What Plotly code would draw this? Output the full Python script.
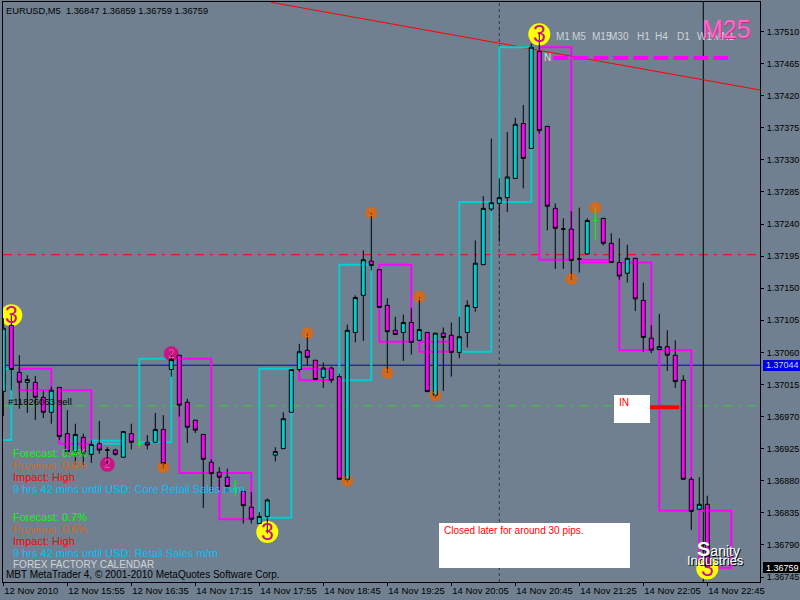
import plotly.graph_objects as go

BG = "#708090"
CYAN = "#00CED1"
MAG = "#FF00FF"

opens = [1.37005,1.37098,1.37032,1.37018,1.37018,1.36997,1.36976,1.37011,1.36946,1.36921,1.36941,1.36917,1.36932,1.36923,1.36923,1.36913,1.36946,1.36931,1.36934,1.36934,1.36952,1.37036,1.37056,1.36990,1.36965,1.36945,1.36906,1.36892,1.36885,1.36869,
1.36865,1.36843,1.36820,1.36830,1.36916,1.36925,1.36976,1.37036,1.37063,1.37049,1.37025,1.37038,1.37026,1.36882,1.37088,1.37140,1.37188,1.37176,1.37126,1.37091,1.37088,1.37102,1.37077,1.37088,1.37000,1.37087,1.37084,1.37060,1.37088,1.37123,
1.37183,1.37261,1.37269,1.37277,1.37304,1.37381,1.37346,1.37482,1.37377,1.37262,1.37233,1.37233,1.37191,1.37198,1.37245,1.37248,1.37213,1.37186,1.37171,1.37192,1.37133,1.37080,1.37064,1.37068,1.37056,1.37021,1.36882,1.36840,1.36847]
highs = [1.37108,1.37112,1.37056,1.37028,1.37027,1.37007,1.37012,1.37011,1.36979,1.36960,1.36946,1.36937,1.36964,1.36927,1.36925,1.36949,1.36960,1.36939,1.36944,1.36975,1.36972,1.37058,1.37056,1.36995,1.36965,1.36945,1.36910,1.36899,1.36897,1.36881,
1.36865,1.36864,1.36836,1.36855,1.36927,1.36976,1.37036,1.37072,1.37087,1.37049,1.37046,1.37040,1.37030,1.37099,1.37140,1.37203,1.37256,1.37176,1.37136,1.37110,1.37113,1.37122,1.37138,1.37088,1.37087,1.37095,1.37102,1.37110,1.37133,1.37217,
1.37279,1.37360,1.37304,1.37369,1.37389,1.37407,1.37493,1.37507,1.37377,1.37269,1.37248,1.37258,1.37263,1.37248,1.37263,1.37248,1.37227,1.37220,1.37211,1.37192,1.37158,1.37098,1.37114,1.37091,1.37077,1.37028,1.36885,1.36885,1.36859]
lows = [1.36971,1.37007,1.36981,1.36975,1.36965,1.36968,1.36960,1.36937,1.36916,1.36902,1.36902,1.36905,1.36918,1.36902,1.36915,1.36913,1.36924,1.36925,1.36924,1.36934,1.36897,1.37026,1.36970,1.36933,1.36947,1.36842,1.36865,1.36867,1.36864,1.36859,
1.36820,1.36820,1.36820,1.36806,1.36907,1.36925,1.36976,1.37033,1.37042,1.37022,1.37010,1.37017,1.36882,1.36878,1.37074,1.37076,1.37175,1.37123,1.37031,1.37085,1.37048,1.37057,1.37077,1.37005,1.36995,1.37006,1.37026,1.37052,1.37067,1.37117,
1.37183,1.37258,1.37215,1.37257,1.37304,1.37290,1.37346,1.37367,1.37231,1.37177,1.37177,1.37161,1.37172,1.37198,1.37217,1.37210,1.37186,1.37162,1.37158,1.37118,1.37061,1.37059,1.37064,1.37034,1.37010,1.36882,1.36811,1.36840,1.36759]
closes = [1.37094,1.37036,1.37018,1.37022,1.36997,1.36976,1.37007,1.36942,1.36921,1.36945,1.36918,1.36931,1.36923,1.36923,1.36917,1.36949,1.36934,1.36931,1.36930,1.36952,1.36904,1.37050,1.36986,1.36955,1.36951,1.36910,1.36890,1.36885,1.36872,1.36869,
1.36845,1.36826,1.36830,1.36853,1.36921,1.36967,1.37036,1.37061,1.37053,1.37022,1.37038,1.37021,1.36882,1.37091,1.37137,1.37190,1.37182,1.37123,1.37089,1.37085,1.37102,1.37074,1.37092,1.37005,1.37087,1.37081,1.37060,1.37082,1.37126,1.37185,
1.37262,1.37270,1.37277,1.37306,1.37380,1.37332,1.37488,1.37371,1.37265,1.37234,1.37233,1.37189,1.37191,1.37245,1.37245,1.37213,1.37186,1.37167,1.37192,1.37135,1.37081,1.37063,1.37068,1.37056,1.37019,1.36882,1.36837,1.36847,1.36759]
green_dojis = [17, 29, 74]

tick_bars = [0, 8, 16, 24, 32, 40, 48, 56, 64, 72, 80, 88]
tick_labels = ["12 Nov 2010","12 Nov 15:55","12 Nov 16:35","14 Nov 17:15","14 Nov 17:55","14 Nov 18:45",
               "14 Nov 19:25","14 Nov 20:05","14 Nov 20:45","14 Nov 21:25","14 Nov 22:05","14 Nov 22:45"]
price_ticks = [1.37510,1.37465,1.37420,1.37375,1.37330,1.37285,1.37240,1.37195,1.37150,1.37105,1.37060,1.37015,
               1.36970,1.36925,1.36880,1.36835,1.36790,1.36745]

# box overlays: start bar, end bar, top price, bottom price, kind
box_start = [-3, 2, 7, 11, 17, 22, 27, 32, 37, 42, 47, 52, 57, 62, 67, 72, 77, 82, 87]
box_end   = [1, 6, 11, 15, 21, 26, 31, 36, 41, 46, 51, 56, 61, 66, 71, 76, 81, 86, 91]
box_top   = [1.37037,1.37037,1.37007,1.36936,1.37051,1.37051,1.36891,1.37037,1.37037,1.37183,1.37183,1.37075,1.37271,1.37488,1.37488,1.37190,1.37186,1.37063,1.36838]
box_bot   = [1.36937,1.37007,1.36932,1.36932,1.36934,1.36891,1.36826,1.36828,1.37021,1.37021,1.37075,1.37061,1.37061,1.37271,1.37190,1.37186,1.37063,1.36838,1.36758]
box_up    = [1,0,0,1,1,0,0,1,0,1,0,0,1,1,0,0,0,0,0]

yellow_bar = [1, 33, 67, 88]
yellow_price = [1.37112, 1.36808, 1.37506, 1.36757]
orange_bar = [20, 43, 38, 46, 48, 52, 54, 74, 71]
orange_price = [1.36899, 1.36880, 1.37087, 1.37256, 1.37031, 1.37138, 1.37000, 1.37263, 1.37163]
pink_bar = [13, 21]
pink_price = [1.36903, 1.37058]

blue_level = 1.37042
green_level = 1.36985
red_level = 1.37197
trend_bar = [33.46, 94.59]
trend_price = [1.37551, 1.37428]
dash_price = 1.37473
dash_bars = [68.75, 90.6]
in_price = 1.36983
in_bars = [80.5, 84.5]
cross_bar = 87.5
dotted_bar = 62

W, H = 800, 600
ML, MR, MT, MB = 3, 40, 2, 18
def px(x): return (x - ML) / (W - ML - MR)
def py(y): return 1 - (y - MT) / (H - MT - MB)

main = [i for i in range(len(opens)) if i not in green_dojis]
fig = go.Figure()
fig.add_trace(go.Candlestick(
    x=main, open=[opens[i] for i in main], high=[highs[i] for i in main],
    low=[lows[i] for i in main], close=[closes[i] for i in main],
    increasing=dict(line=dict(color="black", width=1), fillcolor=CYAN),
    decreasing=dict(line=dict(color="black", width=1), fillcolor=MAG),
    whiskerwidth=0, hoverinfo="skip", showlegend=False))
fig.add_trace(go.Candlestick(
    x=green_dojis, open=[opens[i] for i in green_dojis], high=[highs[i] for i in green_dojis],
    low=[lows[i] for i in green_dojis], close=[closes[i] for i in green_dojis],
    increasing=dict(line=dict(color="#00FF00", width=1), fillcolor="#00FF00"),
    decreasing=dict(line=dict(color="#00FF00", width=1), fillcolor="#00FF00"),
    whiskerwidth=0, hoverinfo="skip", showlegend=False))

shapes = []
def hline(y, color, dash="solid", width=1):
    shapes.append(dict(type="line", xref="paper", yref="y", x0=0, x1=1, y0=y, y1=y, layer="below",
                       line=dict(color=color, width=width, dash=dash)))
hline(blue_level, "#0000CD")
hline(green_level, "#32CD32", "9px,6px,3px,6px")
hline(red_level, "#FF0000", "9px,6px,3px,6px")
shapes.append(dict(type="line", xref="x", yref="paper", x0=dotted_bar, x1=dotted_bar, y0=0, y1=1, layer="below",
                   line=dict(color="#33383d", width=1, dash="3px,3px")))
shapes.append(dict(type="line", xref="x", yref="paper", x0=cross_bar, x1=cross_bar, y0=0, y1=1, layer="below",
                   line=dict(color="black", width=1)))
shapes.append(dict(type="line", xref="x", yref="y", x0=trend_bar[0], x1=trend_bar[1], y0=trend_price[0], y1=trend_price[1],
                   layer="below", line=dict(color="#FF0000", width=1)))
for s, e, t, b, u in zip(box_start, box_end, box_top, box_bot, box_up):
    shapes.append(dict(type="rect", xref="x", yref="y", x0=s, x1=e, y0=b, y1=t, layer="below",
                       line=dict(color=CYAN if u else MAG, width=2)))
shapes.append(dict(type="line", xref="x", yref="y", x0=dash_bars[0], x1=dash_bars[1], y0=dash_price, y1=dash_price,
                   layer="below", line=dict(color=MAG, width=4, dash="15px,5px")))
def circle(b, p, d, color):
    shapes.append(dict(type="circle", xref="x", yref="y", xsizemode="pixel", ysizemode="pixel",
                       xanchor=b, yanchor=p, x0=-d/2, x1=d/2, y0=-d/2, y1=d/2, layer="below",
                       fillcolor=color, line=dict(width=0)))
for b, p in zip(yellow_bar, yellow_price): circle(b, p, 22, "#FFFF00")
for b, p in zip(orange_bar, orange_price): circle(b, p, 12, "#D2691E")
for b, p in zip(pink_bar, pink_price): circle(b, p, 15, "#C71585")
shapes.append(dict(type="line", xref="x", yref="y", x0=in_bars[0], x1=in_bars[1], y0=in_price, y1=in_price,
                   layer="above", line=dict(color="#FF0000", width=4)))
def pxrect(x0, y0, x1, y1, color):
    shapes.append(dict(type="rect", xref="paper", yref="paper", x0=px(x0), x1=px(x1), y0=py(y1), y1=py(y0),
                       layer="above", fillcolor=color, line=dict(width=0)))
pxrect(614, 395, 650, 423, "white")
pxrect(439, 523, 630, 568, "white")
pxrect(763, 360, 800, 371, "#0000E6")
pxrect(763, 562, 800, 573, "black")

ann = []
SANS = "Liberation Sans"
def label(text, x, y, color="black", size=10, anchor="left", **font):
    ann.append(dict(xref="paper", yref="paper", x=px(x), y=py(y), text=text, showarrow=False,
                    xanchor=anchor, yanchor="middle", borderpad=0, borderwidth=0,
                    font=dict(family=SANS, size=size, color=color, **font)))
def digit(b, p, text, color, size):
    ann.append(dict(xref="x", yref="y", x=b, y=p, text=text, showarrow=False, xanchor="center", yanchor="middle",
                    font=dict(family=SANS, size=size, color=color)))
for b, p in zip(yellow_bar, yellow_price): digit(b, p, "3", "#C8108C", 23)
for b, p in zip(orange_bar, orange_price): digit(b, p, "1", "#C07838", 10)
for b, p in zip(pink_bar, pink_price): digit(b, p, "2", "#D8589C", 12)

label("EURUSD,M5  1.36847 1.36859 1.36759 1.36759", 6, 10.5, size=9.3)
for t, x in zip(["M1","M5","M15","M30","H1","H4","D1","W1","MN1"], [556,572,592,609,637,655,677,697,713]):
    label(t, x, 36.5, "#CFD3D8", 10)
label("M25", 702, 29, "#FF69C8", 25, shadow="1px 1px 0 #C03090")
label("N", 544, 58, "#D8DCE0", 10)
label("#11826063 sell", 8, 401, size=9.5)
for y0, fc, pv, name in [(452.7, "0.4%", "0.4%", "Core Retail Sales m/m"), (516.7, "0.7%", "0.6%", "Retail Sales m/m")]:
    label("Forecast: " + fc, 13, y0, "#00FF00", 11)
    label("Previous: " + pv, 13, y0 + 12, "#D2691E", 11)
    label("Impact: High", 13, y0 + 24, "#FF0000", 11)
    label("9 hrs 42 mins until USD: " + name, 13, y0 + 36, "#00BFFF", 11)
label("FOREX FACTORY CALENDAR", 13, 564.7, "#D3D3D3", 10)
label("MBT MetaTrader 4, © 2001-2010 MetaQuotes Software Corp.", 6, 574.5, size=10)
label("IN", 619, 402, "#FF0000", 10)
label("Closed later for around 30 pips.", 444, 530, "#FF0000", 10)
label('<span style="font-size:20px"><b>S</b></span>anity', 697, 549, "white", 14, shadow="1px 1px 0 black")
label("Industries", 687, 560, "white", 13, shadow="1px 1px 0 black")
label("1.37044", 766, 365.5, "#C8D4FF", 9)
label("1.36759", 766, 567.5, "white", 9)

axis = dict(showgrid=False, zeroline=False, showline=True, mirror=True, linecolor="black", linewidth=1,
            ticks="outside", ticklen=3, tickcolor="black", tickwidth=1,
            tickfont=dict(family=SANS, size=9.5, color="black"))
fig.update_layout(
    width=W, height=H, margin=dict(l=ML, r=MR, t=MT, b=MB, autoexpand=False),
    paper_bgcolor=BG, plot_bgcolor=BG, showlegend=False, boxmode="overlay", boxgap=0.5, boxgroupgap=0,
    shapes=shapes, annotations=ann, hovermode=False,
    xaxis=dict(axis, range=[-0.04, 94.59], rangeslider=dict(visible=False), tickmode="array",
               tickvals=tick_bars, ticktext=tick_labels, ticklabelposition="outside right", tickangle=0),
    yaxis=dict(axis, side="right", range=[1.36738, 1.375514], tickmode="array", tickvals=price_ticks,
               ticktext=["%.5f" % v for v in price_ticks], ticklabelstandoff=1,
               tickfont=dict(family=SANS, size=9, color="black")),
)
fig.write_html("out.html", config=dict(displayModeBar=False),
               post_script="document.body.style.margin='0';document.body.style.overflow='hidden';")
